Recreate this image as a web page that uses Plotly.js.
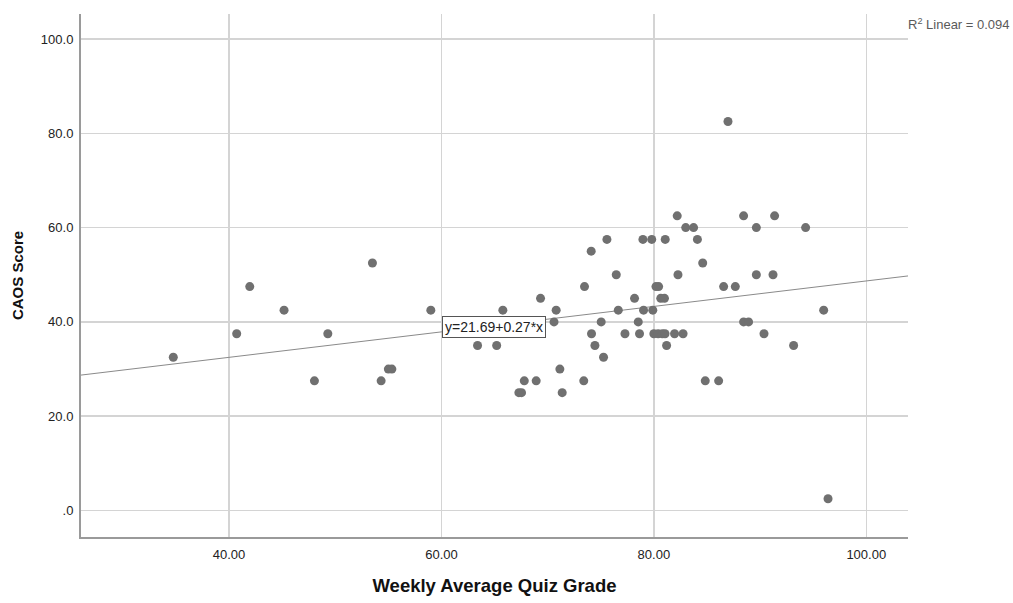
<!DOCTYPE html>
<html>
<head>
<meta charset="utf-8">
<script src="https://cdn.plot.ly/plotly-3.0.1.min.js"></script>
<style>
  html, body { margin: 0; padding: 0; background: #ffffff; }
  #chart { width: 1013px; height: 603px; }
</style>
</head>
<body>
<div id="chart"></div>
<script>
// Weekly average quiz grade vs. CAOS score, one point per student
const quizGrade = [
  34.75, 40.72, 41.95, 45.18, 48.04, 49.3, 53.5, 54.32, 55.0, 55.33,
  59.0, 63.4, 65.2, 65.78, 67.29, 67.54, 67.8, 68.92, 69.33, 70.6,
  70.8, 71.15, 71.37, 73.4, 73.47, 74.1, 74.13, 74.45, 75.04, 75.26,
  75.58, 76.46, 76.65, 77.28, 78.18, 78.53, 78.65, 78.97, 79.03, 79.8,
  79.9, 80.0, 80.2, 80.45, 80.4, 80.65, 81.0, 80.8, 81.05, 81.07,
  81.2, 81.95, 82.2, 82.27, 82.75, 83.0, 83.74, 84.1, 84.6, 84.84,
  86.1, 86.57, 86.98, 87.67, 88.45, 88.45, 88.92, 89.65, 89.65, 90.37,
  91.22, 91.37, 93.16, 94.29, 95.99, 96.4
];
const caosScore = [
  32.5, 37.5, 47.5, 42.5, 27.5, 37.5, 52.5, 27.5, 30.0, 30.0,
  42.5, 35.0, 35.0, 42.5, 25.0, 25.0, 27.5, 27.5, 45.0, 40.0,
  42.5, 30.0, 25.0, 27.5, 47.5, 55.0, 37.5, 35.0, 40.0, 32.5,
  57.5, 50.0, 42.5, 37.5, 45.0, 40.0, 37.5, 57.5, 42.5, 57.5,
  42.5, 37.5, 47.5, 47.5, 37.5, 45.0, 45.0, 37.5, 37.5, 57.5,
  35.0, 37.5, 62.5, 50.0, 37.5, 60.0, 60.0, 57.5, 52.5, 27.5,
  27.5, 47.5, 82.5, 47.5, 62.5, 40.0, 40.0, 60.0, 50.0, 37.5,
  50.0, 62.5, 35.0, 60.0, 42.5, 2.5
];

// Linear fit reported with the chart
const fitIntercept = 21.69;
const fitSlope = 0.27;
const rSquared = 0.094;

// Axis extents and ticks
const xRange = [26.06, 103.93];
const yRange = [-5.61, 105.3];
const xTicks = [40, 60, 80, 100];
const xTickText = ['40.00', '60.00', '80.00', '100.00'];
const yTicks = [0, 20, 40, 60, 80, 100];
const yTickText = ['.0', '20.0', '40.0', '60.0', '80.0', '100.0'];

const fitX = xRange.slice();
const fitY = fitX.map(x => fitIntercept + fitSlope * x);

const font = 'Liberation Sans, Arial, sans-serif';

const traces = [
  {
    x: fitX, y: fitY, type: 'scatter', mode: 'lines',
    line: { color: '#8a8a8a', width: 1 },
    hoverinfo: 'skip', showlegend: false
  },
  {
    x: quizGrade, y: caosScore, type: 'scatter', mode: 'markers',
    marker: { color: '#707070', size: 9 },
    showlegend: false
  }
];

const layout = {
  width: 1013, height: 603,
  margin: { l: 81, r: 105, t: 14, b: 66 },
  paper_bgcolor: '#ffffff', plot_bgcolor: '#ffffff',
  font: { family: font, size: 12, color: '#222' },
  xaxis: {
    range: xRange, tickvals: xTicks, ticktext: xTickText,
    showgrid: true, gridcolor: '#d4d4d4', gridwidth: 1.5,
    zeroline: false, showline: true, linecolor: '#9a9a9a', linewidth: 2,
    ticks: '', ticklabelstandoff: 4,
    tickfont: { family: font, size: 13, color: '#222' },
    title: { text: 'Weekly Average Quiz Grade', standoff: 18,
             font: { family: font, size: 18.5, color: '#111', weight: 'bold' } }
  },
  yaxis: {
    range: yRange, tickvals: yTicks, ticktext: yTickText,
    showgrid: true, gridcolor: '#d4d4d4', gridwidth: 1.5,
    zeroline: false, showline: true, linecolor: '#9a9a9a', linewidth: 2,
    ticks: '', ticklabelstandoff: 3,
    tickfont: { family: font, size: 13, color: '#222' },
    title: { text: 'CAOS Score', standoff: 14,
             font: { family: font, size: 15, color: '#111', weight: 'bold' } }
  },
  annotations: [
    {
      x: 64.97, y: 38.97, xref: 'x', yref: 'y',
      text: 'y=' + fitIntercept.toFixed(2) + '+' + fitSlope.toFixed(2) + '*x',
      showarrow: false, bgcolor: '#ffffff', bordercolor: '#555555',
      borderwidth: 1, borderpad: 2,
      font: { family: font, size: 14, color: '#222' }
    },
    {
      x: 0.998, y: 0.98, xref: 'paper', yref: 'paper',
      xanchor: 'left', yanchor: 'middle',
      text: 'R<sup>2</sup> Linear = ' + rSquared.toFixed(3),
      showarrow: false,
      font: { family: font, size: 13, color: '#5a5a5a' }
    }
  ]
};

Plotly.newPlot('chart', traces, layout, { displayModeBar: false, staticPlot: true });
</script>
</body>
</html>
